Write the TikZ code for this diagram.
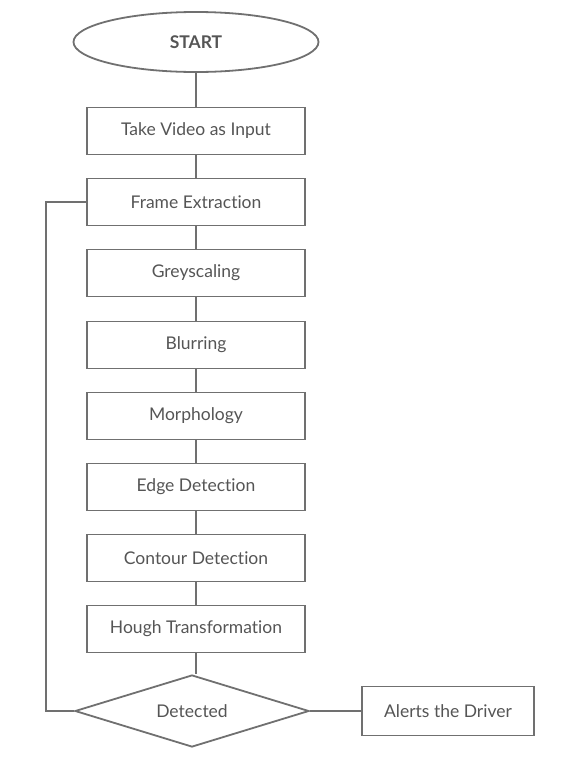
\documentclass[tikz,border=0pt]{standalone}
\usepackage{fontspec}
\setmainfont[Ligatures=NoCommon]{Lato}
\usetikzlibrary{shapes.geometric}
\definecolor{linec}{HTML}{707070}
\definecolor{textc}{HTML}{555555}
\begin{document}
\begin{tikzpicture}[x=1pt,y=-1pt,
  every node/.style={text=textc,font=\fontsize{17.5}{20}\selectfont},
  procbox/.style={draw=linec,line width=1.8pt,minimum width=218pt,minimum height=47pt,inner sep=0pt},
  conn/.style={draw=linec,line width=1.8pt}]
\useasboundingbox (0,0) rectangle (574,766);
\node[draw=linec,line width=1.8pt,ellipse,minimum width=245pt,minimum height=60pt,inner sep=0pt,font=\fontsize{17.5}{20}\selectfont\bfseries] (start) at (196,42) {START};
\node[procbox] (b1) at (196,131) {Take Video as Input};
\node[procbox] (b2) at (196,202) {Frame Extraction};
\node[procbox] (b3) at (196,273) {Greyscaling};
\node[procbox] (b4) at (196,345) {Blurring};
\node[procbox] (b5) at (196,416) {Morphology};
\node[procbox] (b6) at (196,487) {Edge Detection};
\node[procbox] (b7) at (196,558) {Contour Detection};
\node[procbox] (b8) at (196,629) {Hough Transformation};
\node[draw=linec,line width=1.8pt,diamond,aspect=3.25,minimum width=234pt,minimum height=72pt,inner sep=0pt] (det) at (192,711) {Detected};
\node[draw=linec,line width=1.8pt,minimum width=172pt,minimum height=49pt,inner sep=0pt] (alert) at (448,711) {Alerts the Driver};
\coordinate (lt) at (46,202);
\coordinate (lb) at (46,711);
\draw[conn] (start) -- (b1);
\draw[conn] (b1) -- (b2);
\draw[conn] (b2) -- (b3);
\draw[conn] (b3) -- (b4);
\draw[conn] (b4) -- (b5);
\draw[conn] (b5) -- (b6);
\draw[conn] (b6) -- (b7);
\draw[conn] (b7) -- (b8);
\draw[conn] (b8.south) -- (b8.south |- det.north);
\draw[conn] (det.east) -- (alert.west);
\draw[conn] (det.west) -- (lb) -- (lt) -- (b2.west);
\end{tikzpicture}
\end{document}
